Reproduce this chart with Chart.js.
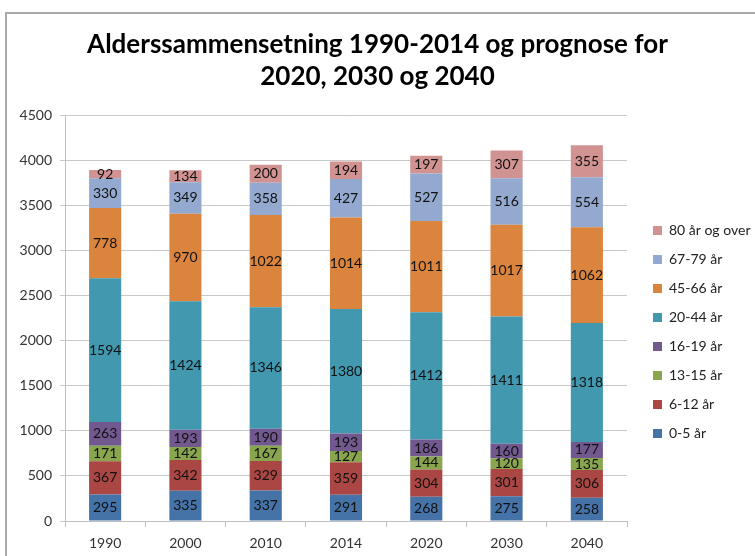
<!DOCTYPE html>
<html>
<head>
<meta charset="utf-8">
<script src="https://cdn.jsdelivr.net/npm/chart.js@4.4.0/dist/chart.umd.min.js"></script>
<style>
  html, body { margin: 0; padding: 0; background: #fff; overflow: hidden; }
  #wrap { position: relative; width: 755px; height: 556px; }
  #frame { position: absolute; left: 5px; top: 12px; width: 800px; height: 600px;
           border-left: 2px solid #a9a9a9; border-top: 2px solid #a9a9a9; }
  canvas { position: absolute; left: 0; top: 0; }
</style>
</head>
<body>
<div id="wrap">
  <div id="frame"></div>
  <canvas id="chart" width="755" height="556"></canvas>
</div>
<script>
const years = ['1990', '2000', '2010', '2014', '2020', '2030', '2040'];
const yTicks = [0, 500, 1000, 1500, 2000, 2500, 3000, 3500, 4000, 4500];

// antall personer per aldersgruppe
const age0to5   = [295, 335, 337, 291, 268, 275, 258];
const age6to12  = [367, 342, 329, 359, 304, 301, 306];
const age13to15 = [171, 142, 167, 127, 144, 120, 135];
const age16to19 = [263, 193, 190, 193, 186, 160, 177];
const age20to44 = [1594, 1424, 1346, 1380, 1412, 1411, 1318];
const age45to66 = [778, 970, 1022, 1014, 1011, 1017, 1062];
const age67to79 = [330, 349, 358, 427, 527, 516, 554];
const age80plus = [92, 134, 200, 194, 197, 307, 355];

const FONT = 'Lato, "Open Sans", sans-serif';

// tall midt i hvert segment
const segmentLabels = {
  id: 'segmentLabels',
  afterDatasetsDraw(chart) {
    const ctx = chart.ctx;
    ctx.save();
    ctx.font = '14px ' + FONT;
    ctx.fillStyle = '#111';
    ctx.textAlign = 'center';
    ctx.textBaseline = 'middle';
    chart.data.datasets.forEach((ds, i) => {
      const meta = chart.getDatasetMeta(i);
      meta.data.forEach((bar, j) => {
        ctx.fillText(ds.data[j], bar.x, (bar.y + bar.base) / 2);
      });
    });
    ctx.restore();
  }
};

// legenden får fast bredde og flyttes litt
const legendPlace = {
  id: 'legendPlace',
  afterInit(chart) {
    const lg = chart.legend;
    const fit = lg.fit;
    lg.fit = function () {
      fit.call(this);
      this.width = 128;
    };
  },
  afterLayout(chart) {
    const lg = chart.legend;
    lg.left += 11;
    lg.top += 54;
    lg.bottom += 54;
  }
};

new Chart(document.getElementById('chart'), {
  type: 'bar',
  data: {
    labels: years,
    datasets: [
      { label: '0-5 år', data: age0to5, backgroundColor: '#4572A7' },
      { label: '6-12 år', data: age6to12, backgroundColor: '#AA4643' },
      { label: '13-15 år', data: age13to15, backgroundColor: '#89A54E' },
      { label: '16-19 år', data: age16to19, backgroundColor: '#71588F' },
      { label: '20-44 år', data: age20to44, backgroundColor: '#4198AF' },
      { label: '45-66 år', data: age45to66, backgroundColor: '#DB843D' },
      { label: '67-79 år', data: age67to79, backgroundColor: '#93A9CF' },
      { label: '80 år og over', data: age80plus, backgroundColor: '#D19392' }
    ]
  },
  options: {
    responsive: false,
    animation: false,
    devicePixelRatio: 1,
    barPercentage: 0.4,
    categoryPercentage: 1,
    layout: { padding: 0 },
    scales: {
      x: {
        stacked: true,
        afterFit(scale) { scale.height = 35; },
        grid: { offset: true, drawOnChartArea: false, tickLength: 6, color: '#bfbfbf' },
        border: { color: '#bfbfbf' },
        ticks: { padding: 8, color: '#333', font: { family: FONT, size: 14 } }
      },
      y: {
        stacked: true,
        min: 0,
        max: 4500,
        afterBuildTicks(scale) { scale.ticks = yTicks.map(v => ({ value: v })); },
        afterFit(scale) { scale.width = 65; },
        grid: { color: '#c8c8c8', tickLength: 5 },
        border: { color: '#bfbfbf' },
        ticks: {
          padding: 8,
          color: '#333',
          font: { family: FONT, size: 14 },
          callback: v => String(v)
        }
      }
    },
    plugins: {
      title: {
        display: true,
        text: ['Alderssammensetning 1990-2014 og prognose for', '2020, 2030 og 2040'],
        color: '#000',
        font: { family: FONT, size: 26, weight: 'bold', lineHeight: 1.25 },
        padding: { top: 28, bottom: 22 }
      },
      legend: {
        position: 'right',
        reverse: true,
        labels: {
          boxWidth: 9,
          boxHeight: 9,
          padding: 15,
          color: '#222',
          font: { family: FONT, size: 14 }
        }
      },
      tooltip: { enabled: false }
    }
  },
  plugins: [segmentLabels, legendPlace]
});
</script>
</body>
</html>
